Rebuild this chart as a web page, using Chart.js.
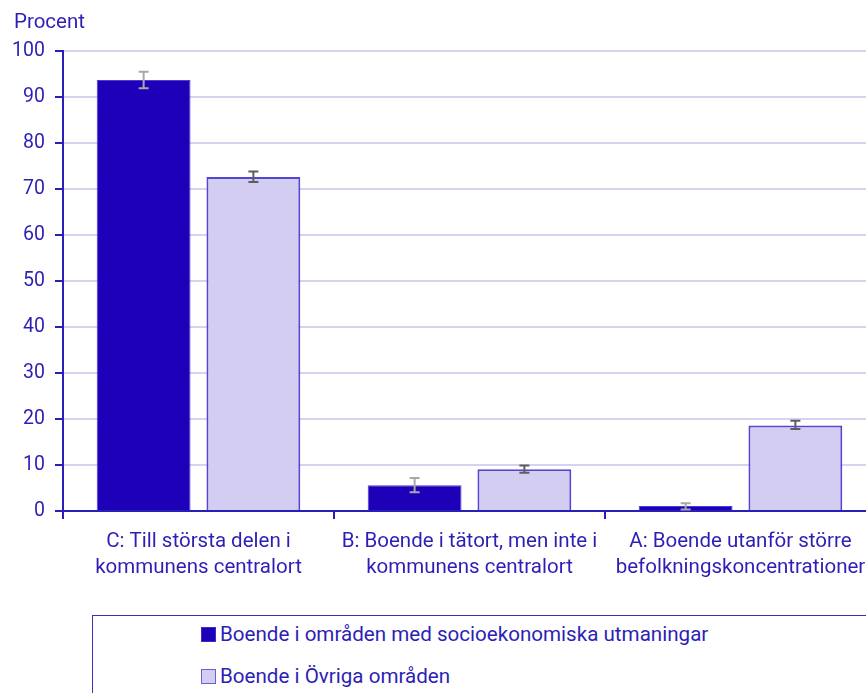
<!DOCTYPE html>
<html>
<head>
<meta charset="utf-8">
<script src="https://cdn.jsdelivr.net/npm/chart.js@4"></script>
<style>
    body { margin: 0; overflow: hidden; background: #fff; font-family: Roboto, sans-serif; }
    #wrap { position: relative; width: 880px; height: 693px; }
    #legend {
        position: absolute; left: 92px; top: 615px; width: 800px; height: 100px;
        border: 1px solid #3a2fc4; box-sizing: border-box;
    }
    .item { position: absolute; left: 108px; display: flex; align-items: center; font-size: 20.6px; color: #2d1fb5; }
    .box { width: 15px; height: 15px; margin-right: 4px; box-sizing: border-box; }
</style>
</head>
<body>
<div id="wrap">
    <canvas id="chart" width="880" height="600"></canvas>
    <div id="legend"></div>
</div>
<script>
const categories = [
    ['C: Till största delen i', 'kommunens centralort'],
    ['B: Boende i tätort, men inte i', 'kommunens centralort'],
    ['A: Boende utanför större', 'befolkningskoncentrationer']
];
const seriesNames = [
    'Boende i områden med socioekonomiska utmaningar',
    'Boende i Övriga områden'
];
const utsattValues = [93.7, 5.6, 1.1];
const utsattLow = [91.9, 4.1, 0.3];
const utsattHigh = [95.5, 7.2, 1.7];
const ovrigaValues = [72.6, 9.1, 18.6];
const ovrigaLow = [71.5, 8.3, 17.8];
const ovrigaHigh = [73.8, 9.9, 19.6];
const yTicks = [0, 10, 20, 30, 40, 50, 60, 70, 80, 90, 100];

const textColor = '#2d1fb5';
const axisColor = '#2a1db8';
const darkBar = '#1e00b9';
const lightBar = '#d2cdf1';

// error bars drawn from the low/high arrays
const errorBars = {
    id: 'errorBars',
    afterDatasetsDraw(chart) {
        const ctx = chart.ctx;
        const y = chart.scales.y;
        chart.data.datasets.forEach((ds, i) => {
            const meta = chart.getDatasetMeta(i);
            meta.data.forEach((bar, j) => {
                const top = y.getPixelForValue(ds.errHigh[j]);
                const bottom = y.getPixelForValue(ds.errLow[j]);
                ctx.save();
                ctx.strokeStyle = ds.errColor;
                ctx.lineWidth = 2;
                ctx.beginPath();
                ctx.moveTo(bar.x, top);
                ctx.lineTo(bar.x, bottom);
                ctx.moveTo(bar.x - 5, top);
                ctx.lineTo(bar.x + 5, top);
                ctx.moveTo(bar.x - 5, bottom);
                ctx.lineTo(bar.x + 5, bottom);
                ctx.stroke();
                ctx.restore();
            });
        });
    }
};

const unitLabel = {
    id: 'unitLabel',
    afterDraw(chart) {
        const ctx = chart.ctx;
        ctx.save();
        ctx.fillStyle = textColor;
        ctx.font = '20.5px Roboto';
        ctx.textBaseline = 'middle';
        ctx.fillText('Procent', 14, 23);
        ctx.restore();
    }
};

new Chart(document.getElementById('chart'), {
    type: 'bar',
    data: {
        labels: categories,
        datasets: [{
            label: seriesNames[0],
            data: utsattValues,
            errLow: utsattLow,
            errHigh: utsattHigh,
            errColor: '#a8a8a8',
            backgroundColor: darkBar,
            borderColor: '#4a3cd8',
            borderWidth: 1,
            categoryPercentage: 0.81,
            barPercentage: 0.855
        }, {
            label: seriesNames[1],
            data: ovrigaValues,
            errLow: ovrigaLow,
            errHigh: ovrigaHigh,
            errColor: '#5e5e5e',
            backgroundColor: lightBar,
            borderColor: '#5446d4',
            borderWidth: 2,
            categoryPercentage: 0.81,
            barPercentage: 0.855
        }]
    },
    options: {
        responsive: false,
        animation: false,
        layout: { padding: { left: 0, top: 51, right: 4, bottom: 0 } },
        plugins: { legend: { display: false }, tooltip: { enabled: false } },
        scales: {
            x: {
                offset: true,
                border: { color: axisColor, width: 2 },
                grid: { offset: true, drawOnChartArea: false, color: axisColor, tickLength: 8, lineWidth: 2 },
                ticks: { color: textColor, font: { family: 'Roboto', size: 20.5, lineHeight: 1.27 }, padding: 10, maxRotation: 0, autoSkip: false },
                afterFit: s => { s.height = 89; }
            },
            y: {
                min: 0, max: 100,
                afterBuildTicks: s => { s.ticks = yTicks.map(v => ({ value: v })); },
                border: { color: axisColor, width: 2 },
                grid: { color: '#d5d3f0', lineWidth: 2, tickColor: axisColor, tickLength: 8 },
                ticks: { color: textColor, font: { family: 'Roboto', size: 19.5 }, padding: 10 },
                afterFit: s => { s.width = 63; }
            }
        }
    },
    plugins: [errorBars, unitLabel]
});

// legend with border box, as in the reference
const legend = document.getElementById('legend');
[[darkBar, '#3a2fc4'], [lightBar, '#6a5fd0']].forEach(([fill, edge], i) => {
    const row = document.createElement('div');
    row.className = 'item';
    row.style.top = (6 + i * 42) + 'px';
    row.innerHTML = `<span class="box" style="background:${fill};border:1px solid ${edge}"></span>${seriesNames[i]}`;
    legend.appendChild(row);
});
</script>
</body>
</html>
